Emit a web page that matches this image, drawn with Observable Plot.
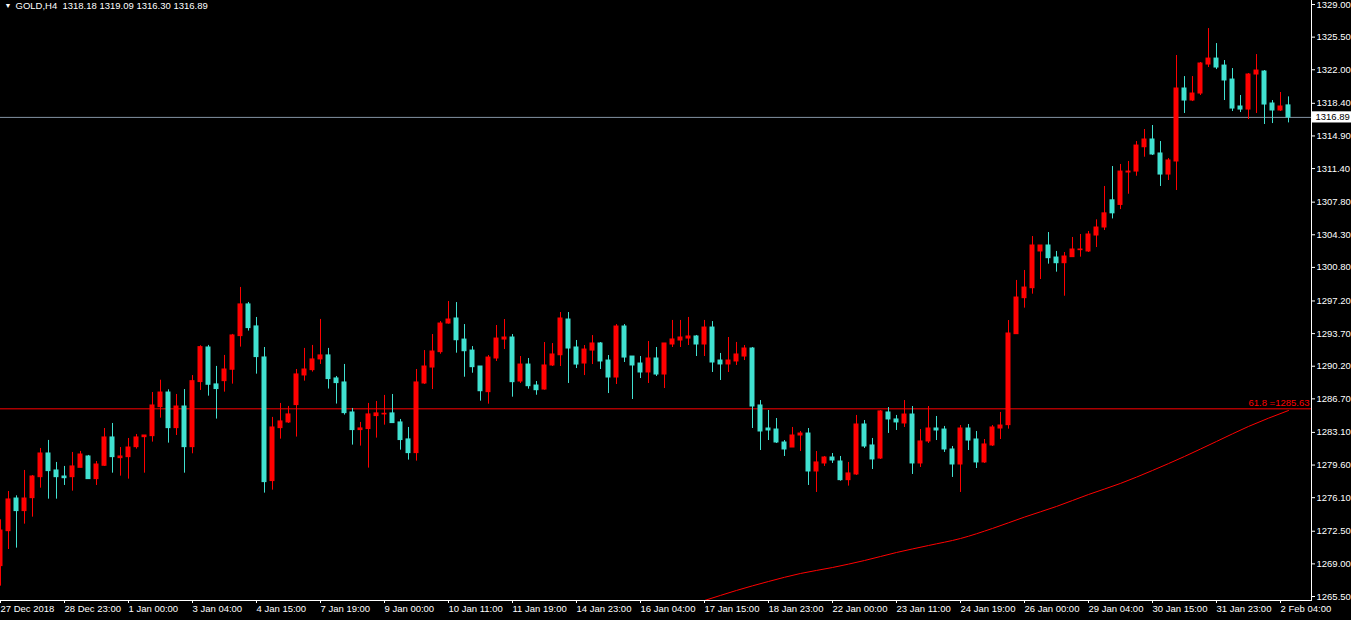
<!DOCTYPE html>
<html><head><meta charset="utf-8">
<script src="https://cdn.jsdelivr.net/npm/d3@7"></script>
<script src="https://cdn.jsdelivr.net/npm/@observablehq/plot@0.6"></script>
<style>
html,body{margin:0;padding:0;background:#000;overflow:hidden}
#chart svg{display:block}
</style></head><body><div id="chart"></div>
<script>
const symbolTitle = "GOLD,H4  1318.18 1319.09 1316.30 1316.89";

const opens = [1268.76,1272.51,1276.01,1274.66,1276.05,1278.30,1280.84,1279.02,1278.37,1278.30,
1279.30,1280.52,1278.09,1279.52,1282.56,1280.34,1280.45,1281.52,1282.59,1282.70,
1285.81,1287.38,1283.56,1285.88,1281.52,1288.50,1292.21,1288.25,1288.60,1289.82,
1293.43,1296.83,1294.47,1291.14,1277.88,1283.56,1284.17,1286.03,1289.21,1289.78,
1290.93,1291.36,1288.89,1288.46,1285.24,1283.35,1283.46,1284.85,1285.03,1285.14,
1284.17,1282.35,1280.88,1288.35,1290.06,1291.71,1294.78,1295.32,1293.06,1291.88,
1290.17,1287.42,1291.03,1293.06,1293.28,1288.56,1290.38,1288.13,1287.70,1290.28,
1291.38,1295.21,1292.21,1290.49,1291.88,1292.64,1290.81,1288.99,1294.46,1291.24,
1290.49,1289.53,1291.03,1289.31,1292.53,1292.96,1293.17,1293.39,1292.53,1294.35,
1290.81,1290.39,1290.71,1291.24,1292.10,1285.99,1283.52,1283.41,1282.02,1281.48,
1282.77,1282.98,1278.91,1279.77,1280.41,1279.98,1277.98,1278.59,1283.95,1281.70,
1280.30,1285.24,1284.49,1284.06,1285.02,1279.77,1282.13,1283.52,1283.41,1281.27,
1279.66,1283.52,1282.34,1279.88,1281.70,1283.52,1283.88,1293.64,1297.50,1298.57,
1302.51,1303.15,1301.86,1301.25,1301.90,1302.65,1302.51,1304.22,1305.08,1308.00,
1307.50,1310.98,1311.08,1313.69,1314.52,1313.02,1310.76,1312.16,1319.99,1318.70,
1319.45,1322.56,1323.20,1322.45,1320.95,1318.06,1317.73,1321.49,1321.81,1318.38,
1317.63,1318.18];

const highs = [1273.73,1276.76,1276.30,1279.02,1278.48,1281.38,1282.24,1279.88,1279.45,1280.95,
1281.06,1280.63,1279.98,1283.52,1284.06,1281.48,1282.45,1282.88,1282.77,1287.38,
1288.70,1287.67,1287.17,1287.70,1289.20,1292.40,1292.43,1290.18,1291.36,1293.61,
1298.65,1297.04,1295.43,1292.21,1284.71,1286.21,1285.89,1289.85,1292.11,1292.43,
1295.22,1292.11,1289.10,1290.39,1285.67,1284.17,1286.21,1286.42,1287.07,1287.17,
1284.49,1283.63,1289.85,1291.88,1293.60,1294.99,1297.14,1297.03,1294.67,1292.31,
1290.17,1291.35,1294.57,1295.21,1293.60,1291.24,1291.03,1288.56,1292.74,1292.63,
1295.96,1295.96,1292.96,1292.42,1293.49,1292.74,1291.35,1294.67,1294.67,1291.24,
1291.24,1292.85,1292.21,1292.64,1295.11,1295.11,1295.43,1293.50,1295.11,1294.99,
1291.57,1293.28,1292.75,1292.42,1292.21,1286.52,1285.45,1284.59,1282.23,1283.63,
1283.20,1283.52,1281.05,1280.52,1280.84,1280.52,1279.88,1284.92,1284.38,1282.45,
1285.45,1285.77,1284.92,1286.52,1285.88,1283.41,1285.88,1284.81,1283.74,1281.59,
1283.84,1283.95,1283.20,1282.34,1283.84,1285.24,1295.10,1299.40,1300.47,1304.11,
1303.15,1304.54,1302.51,1302.40,1304.01,1304.33,1304.65,1305.90,1309.48,1311.62,
1311.84,1312.16,1314.30,1315.59,1316.02,1314.30,1312.48,1323.53,1321.27,1321.27,
1322.78,1326.42,1324.81,1322.99,1322.13,1319.24,1321.60,1323.63,1321.92,1318.70,
1319.56,1319.09];

const lows = [1266.61,1270.54,1270.69,1273.26,1274.01,1277.12,1275.94,1275.94,1277.41,1276.80,
1279.30,1278.09,1277.41,1279.45,1278.73,1278.41,1278.09,1281.31,1278.73,1282.06,
1284.63,1281.95,1282.77,1278.73,1280.81,1287.60,1286.99,1284.53,1287.42,1288.28,
1292.25,1293.97,1289.35,1276.59,1276.91,1282.38,1284.06,1282.60,1288.60,1289.57,
1290.39,1287.75,1286.14,1284.96,1281.74,1281.63,1279.27,1282.49,1283.88,1284.10,
1281.20,1280.13,1280.02,1288.24,1287.70,1291.49,1294.71,1291.60,1289.02,1289.45,
1286.45,1286.13,1290.71,1291.99,1286.88,1288.35,1287.74,1287.09,1287.63,1290.17,
1290.17,1288.35,1289.95,1289.20,1290.38,1289.85,1287.27,1288.24,1290.60,1286.63,
1288.88,1288.35,1289.10,1287.81,1292.21,1292.21,1292.42,1291.24,1291.24,1289.53,
1288.67,1289.53,1290.28,1290.81,1283.52,1281.16,1282.23,1281.91,1280.52,1281.48,
1281.05,1277.41,1276.66,1279.45,1279.77,1277.87,1277.34,1278.48,1281.38,1279.12,
1280.20,1282.99,1283.31,1283.63,1278.59,1279.34,1281.91,1282.23,1280.95,1278.27,
1276.66,1281.16,1279.23,1279.77,1281.59,1282.34,1283.45,1293.64,1296.43,1297.93,
1299.50,1301.15,1300.29,1297.71,1301.90,1301.90,1302.40,1302.93,1304.76,1306.00,
1307.00,1308.65,1310.58,1312.62,1312.80,1309.48,1310.12,1309.05,1317.31,1318.59,
1319.24,1322.24,1322.02,1318.70,1317.52,1317.41,1316.66,1317.31,1316.13,1316.23,
1317.52,1316.30];

const closes = [1272.58,1275.91,1274.66,1276.01,1278.37,1280.84,1278.95,1278.30,1278.19,1279.45,
1280.73,1278.09,1279.66,1282.56,1280.45,1280.52,1281.48,1282.56,1282.77,1285.99,
1287.38,1283.56,1285.88,1281.52,1288.60,1292.25,1288.21,1287.75,1289.85,1293.50,
1296.83,1294.29,1291.18,1277.77,1283.63,1284.28,1285.03,1289.32,1289.85,1290.93,
1291.36,1288.82,1288.39,1285.17,1283.35,1283.53,1285.03,1285.14,1285.10,1284.10,
1282.28,1280.88,1288.46,1290.17,1291.78,1294.78,1295.21,1292.99,1291.81,1290.10,
1287.52,1291.13,1293.17,1293.28,1288.49,1290.38,1288.06,1287.63,1290.28,1291.46,
1295.32,1292.10,1290.38,1291.99,1292.64,1290.71,1288.99,1294.46,1291.13,1290.28,
1289.53,1291.03,1289.31,1292.64,1293.07,1293.28,1293.39,1292.53,1294.35,1290.60,
1290.39,1290.81,1291.46,1292.10,1285.88,1283.20,1283.31,1282.02,1281.27,1282.77,
1282.98,1278.91,1279.88,1280.41,1280.09,1277.98,1278.70,1283.95,1281.59,1280.20,
1285.35,1284.49,1284.17,1285.02,1279.77,1282.13,1283.52,1283.31,1281.27,1279.66,
1283.52,1282.23,1279.88,1281.81,1283.63,1283.84,1293.71,1297.57,1298.64,1303.15,
1303.15,1301.79,1301.25,1301.97,1302.72,1302.72,1304.33,1305.08,1306.60,1306.60,
1311.08,1311.08,1313.87,1314.52,1312.91,1310.76,1312.27,1319.99,1318.70,1319.45,
1322.67,1323.20,1322.24,1320.85,1317.84,1317.73,1321.49,1321.92,1318.27,1317.63,
1318.06,1316.89];

// moving-average style curve (bar index, price)
const maBars = [84, 88, 92, 96, 100, 104, 108, 112, 116, 120, 124, 128, 132, 136, 140, 144, 148, 152, 156, 161];
const maValues = [1264.0, 1265.07, 1266.15, 1267.11, 1267.97, 1268.61, 1269.36, 1270.22, 1270.97, 1271.72,
  1272.80, 1274.02, 1275.16, 1276.44, 1277.63, 1279.02, 1280.52, 1282.13, 1283.74, 1285.45];

const lastPrice = 1316.89;
const fiboLevel = 1285.63;
const fiboLabel = "61.8 =1285.63";

const yTickLabels = ["1329.00","1325.50","1322.00","1318.40","1314.90","1311.40","1307.80","1304.30",
  "1300.80","1297.20","1293.70","1290.20","1286.70","1283.10","1279.60","1276.10","1272.50","1269.00","1265.50"];

const xTickBars = [0,8,16,24,32,40,48,56,64,72,80,88,96,104,112,120,128,136,144,152,160];
const xTickLabels = ["27 Dec 2018","28 Dec 23:00","1 Jan 00:00","3 Jan 04:00","4 Jan 15:00","7 Jan 19:00",
  "9 Jan 00:00","10 Jan 11:00","11 Jan 19:00","14 Jan 23:00","16 Jan 04:00","17 Jan 15:00","18 Jan 23:00",
  "22 Jan 00:00","23 Jan 11:00","24 Jan 19:00","26 Jan 00:00","29 Jan 04:00","30 Jan 15:00","31 Jan 23:00","2 Feb 04:00"];

const UP = "#ff0000", DOWN = "#40e0d0";
const candles = opens.map((o, i) => ({i, open: o, high: highs[i], low: lows[i], close: closes[i],
  color: closes[i] >= o ? UP : DOWN}));
const ma = maBars.map((b, k) => ({i: b, v: maValues[k]}));
const yTicks = yTickLabels.map(Number);
const xMax = 163.875;
const font = "'Liberation Sans', Arial, sans-serif";

const chart = Plot.plot({
  width: 1351, height: 620,
  marginLeft: 0, marginRight: 40, marginTop: 0, marginBottom: 20,
  style: {background: "#000", color: "#fff", fontFamily: font, fontSize: "9.5px", overflow: "visible"},
  x: {domain: [0, xMax], axis: null, label: null},
  y: {domain: [1265.5, 1329], range: [596, 4], axis: null, label: null},
  marks: [
    Plot.ruleY([lastPrice], {stroke: "#8393a4", strokeWidth: 1}),
    Plot.ruleY([fiboLevel], {stroke: "#ff0000", strokeWidth: 1}),
    Plot.line(ma, {x: "i", y: "v", stroke: "#ff0000", strokeWidth: 1, clip: true, curve: "monotone-x"}),
    Plot.ruleX(candles, {x: "i", y1: "low", y2: "high", stroke: "color", strokeWidth: 1}),
    Plot.rect(candles, {x1: d => d.i - 0.3125, x2: d => d.i + 0.3125,
      y1: d => Math.min(d.open, d.close), y2: d => Math.max(d.open, d.close),
      insetTop: -0.5, insetBottom: -0.5, fill: "color"}),
    Plot.text([fiboLabel], {frameAnchor: "right", y: fiboLevel, textAnchor: "end", dx: -2, dy: -6,
      fill: "#ff0000", fontSize: 9.5}),
    Plot.frame({anchor: "bottom", stroke: "#fff"}),
    Plot.frame({anchor: "right", stroke: "#fff"}),
    Plot.axisX(xTickBars, {anchor: "bottom", label: null, tickSize: 3, tickPadding: 2, stroke: "#fff", fill: "#fff",
      textAnchor: "start", dx: 0, tickFormat: (d, k) => xTickLabels[k], fontSize: 9.5}),
    Plot.axisY(yTicks, {anchor: "right", label: null, tickSize: 3, tickPadding: 2, stroke: "#fff", fill: "#fff",
      tickFormat: (d, k) => yTickLabels[k], fontSize: 9.5}),
    Plot.rect([lastPrice], {x1: xMax + 0.125, x2: xMax + 5.2, y1: d => d - 0.6, y2: d => d + 0.6, fill: "#fff"}),
    Plot.text([lastPrice], {x: xMax + 0.5, y: d => d, text: d => d.toFixed(2), textAnchor: "start",
      fill: "#000", fontSize: 9.5}),
    Plot.text(["\u25BC"], {frameAnchor: "top-left", dx: 4, dy: 3, fill: "#fff", fontSize: 7, textAnchor: "start"}),
    Plot.text([symbolTitle], {frameAnchor: "top-left", dx: 15, dy: 2, fill: "#fff", fontSize: 9.5,
      textAnchor: "start", style: "white-space:pre"})
  ]
});
document.getElementById("chart").appendChild(chart);
</script></body></html>
